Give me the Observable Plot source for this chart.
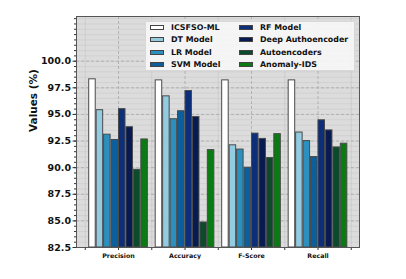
<!DOCTYPE html>
<html><head><meta charset="utf-8">
<script src="https://cdn.jsdelivr.net/npm/d3@7"></script>
<script src="https://cdn.jsdelivr.net/npm/@observablehq/plot@0.6"></script>
<style>
body{margin:0;background:#fff;}
#wrap{position:relative;width:406px;height:279px;font-family:"DejaVu Sans",sans-serif;}
#wrap svg{font-family:"DejaVu Sans",sans-serif;}
#wrap svg text{font-weight:bold;fill:#111;}
#legend{position:absolute;left:145px;top:21px;width:210px;height:50px;background:rgba(246,246,246,0.92);border:1px solid #d8d8d8;box-sizing:border-box;}
.item{position:absolute;height:10px;font-size:7.9px;font-weight:bold;color:#111;white-space:nowrap;display:flex;align-items:center;}
.sw{width:14px;height:5px;border:1px solid #444;box-sizing:border-box;margin-right:7px;flex:none;}
</style></head>
<body><div id="wrap"></div>
<script>
const categories = ["Precision", "Accuracy", "F-Score", "Recall"];
const models = ["ICSFSO-ML", "DT Model", "LR Model", "SVM Model", "RF Model", "Deep Authoencoder", "Autoencoders", "Anomaly-IDS"];
const icsfsoML     = [98.3, 98.2, 98.2, 98.2];
const dtModel      = [95.4, 96.7, 92.1, 93.3];
const lrModel      = [93.1, 94.55, 91.7, 92.5];
const svmModel     = [92.6, 95.3, 90.0, 91.0];
const rfModel      = [95.5, 97.2, 93.2, 94.45];
const deepAE       = [93.8, 94.75, 92.7, 93.5];
const autoencoders = [89.8, 84.85, 90.9, 91.9];
const anomalyIDS   = [92.65, 91.65, 93.15, 92.25];
const yTicks = [82.5, 85.0, 87.5, 90.0, 92.5, 95.0, 97.5, 100.0];
const yLabel = "Values (%)";
const colors = ["#ffffff", "#93cbe0", "#2b90bf", "#0b5f9c", "#0d2e78", "#081a52", "#0b4a2b", "#0a7b12"];

const series = [icsfsoML, dtModel, lrModel, svmModel, rfModel, deepAE, autoencoders, anomalyIDS];
const rows = [];
series.forEach((vals, i) => vals.forEach((v, g) => rows.push({model: models[i], i, g, value: v})));

const yMin = yTicks[0];
const yMax = 104.2;
const step = 0.112, bw = 0.098;
const minorY = d3.range(0, 44).map(k => yMin + k * 0.5).filter(v => v <= yMax);
const halfX = [-0.5, 0.5, 1.5, 2.5, 3.5];
const majorX = [0, 1, 2, 3];

const chart = Plot.plot({
  width: 406, height: 279,
  marginLeft: 76, marginRight: 47, marginTop: 16, marginBottom: 32,
  x: {type: "linear", domain: [-0.632, 3.624], label: null},
  y: {domain: [yMin, yMax], label: null},
  color: {domain: models, range: colors},
  marks: [
    Plot.frame({fill: "#dcdcdc", stroke: null}),
    Plot.gridY(minorY, {stroke: "#c9c9c9", strokeOpacity: 1, strokeWidth: 0.6}),
    Plot.gridX(halfX, {stroke: "#c2c2c2", strokeOpacity: 1, strokeWidth: 0.6}),
    Plot.gridY(yTicks, {stroke: "#a8a8a8", strokeOpacity: 1, strokeWidth: 0.8, strokeDasharray: "3,2"}),
    Plot.gridX(majorX, {stroke: "#a8a8a8", strokeOpacity: 1, strokeWidth: 0.8, strokeDasharray: "3,2"}),
    Plot.rect(rows, {
      x1: d => d.g + (d.i - 3.5) * step - bw / 2,
      x2: d => d.g + (d.i - 3.5) * step + bw / 2,
      y1: yMin, y2: "value",
      fill: "model", stroke: "#4a4a4a", strokeWidth: 1
    }),
    Plot.axisY(minorY, {tickSize: 2, tickFormat: () => "", stroke: "#333", label: null}),
    Plot.axisY(yTicks, {tickSize: 3.5, tickPadding: 2, tickFormat: d3.format(".1f"), fontSize: 9.5, stroke: "#333", label: null}),
    Plot.axisX(halfX, {tickSize: 3, tickFormat: () => "", stroke: "#333", label: null}),
    Plot.axisX(majorX, {tickSize: 3, tickPadding: 3, tickFormat: i => categories[i], fontSize: 6.3, stroke: "#333", label: null}),
    Plot.text([yLabel], {frameAnchor: "left", dx: -43, rotate: -90, fontSize: 10.5, fontWeight: "bold"}),
    Plot.frame({stroke: "#555", strokeWidth: 1})
  ]
});

const wrap = document.getElementById("wrap");
wrap.appendChild(chart);

const legend = document.createElement("div");
legend.id = "legend";
wrap.appendChild(legend);
models.forEach((m, i) => {
  const col = Math.floor(i / 4), row = i % 4;
  const it = document.createElement("div");
  it.className = "item";
  it.style.left = (col === 0 ? 149 : 238) - 145 + "px";
  it.style.top = (26 + row * 12.5 - 5) - 21 + "px";
  const sw = document.createElement("span");
  sw.className = "sw";
  sw.style.background = colors[i];
  const tx = document.createElement("span");
  tx.textContent = m;
  it.appendChild(sw); it.appendChild(tx);
  legend.appendChild(it);
});
</script>
</body></html>
